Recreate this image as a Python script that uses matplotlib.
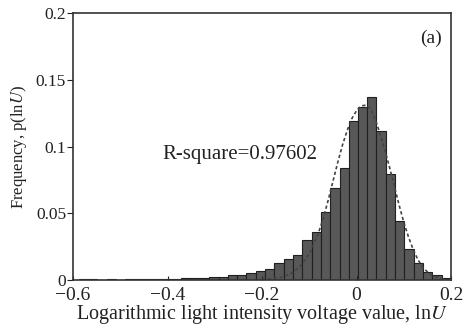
import numpy as np
import matplotlib
matplotlib.use('Agg')
import matplotlib.pyplot as plt

plt.rcParams['font.family'] = ['Liberation Serif', 'DejaVu Serif']
plt.rcParams['mathtext.fontset'] = 'stix'

# Histogram bars: centers (lnU) and frequencies
bin_width = 0.0197
bar_centers = [-0.5778, -0.5581, -0.5384, -0.5187, -0.4990, -0.4793, -0.4596,
               -0.4399, -0.4202, -0.4005, -0.3808, -0.3611, -0.3414,
               -0.3217, -0.3020, -0.2823, -0.2626, -0.2429, -0.2232, -0.2035,
               -0.1838, -0.1641, -0.1444, -0.1247, -0.1050, -0.0853, -0.0656,
               -0.0459, -0.0262, -0.0065, 0.0124, 0.0321, 0.0518, 0.0715,
               0.0912, 0.1109, 0.1306, 0.1503, 0.1700, 0.1897]
bar_freq = [0.0005, 0.0005, 0.0002, 0.0005, 0.0003, 0.0005, 0.0005,
            0.0005, 0.0005, 0.0007, 0.0010, 0.0012, 0.0015,
            0.0017, 0.0025, 0.0025, 0.0035, 0.0040, 0.0050, 0.0065,
            0.0085, 0.0125, 0.0157, 0.0187, 0.0297, 0.0362, 0.0507,
            0.0692, 0.0836, 0.1194, 0.1299, 0.1373, 0.1116, 0.0794,
            0.0442, 0.0235, 0.0125, 0.0062, 0.0037, 0.0017]

# Fitted curve (dashed)
fit_x = [-0.20, -0.18, -0.16, -0.14, -0.12, -0.10, -0.08, -0.07, -0.06, -0.05,
         -0.04, -0.03, -0.02, -0.01, 0.00, 0.01, 0.02, 0.03, 0.04, 0.05,
         0.06, 0.07, 0.08, 0.09, 0.10, 0.11, 0.12, 0.13, 0.14, 0.15,
         0.16, 0.17, 0.18, 0.19]
fit_y = [0.0005, 0.0010, 0.0020, 0.0045, 0.0100, 0.0195, 0.0360, 0.0470, 0.0600, 0.0740,
         0.0880, 0.1010, 0.1120, 0.1210, 0.1270, 0.1305, 0.1310, 0.1280, 0.1200, 0.1090,
         0.0970, 0.0840, 0.0700, 0.0560, 0.0430, 0.0320, 0.0225, 0.0150, 0.0095, 0.0060,
         0.0035, 0.0020, 0.0010, 0.0005]

r_square = 0.97602

fig = plt.figure(figsize=(4.68, 3.27), dpi=100)
ax = fig.add_axes([0.156, 0.1437, 0.808, 0.8163])

ax.bar(bar_centers, bar_freq, width=bin_width, color='#585858',
       edgecolor='#202020', linewidth=0.8)
ax.plot(fit_x, fit_y, linestyle=(0, (2.0, 1.5)), color='#444444', linewidth=1.2)

ax.set_xlim(-0.6, 0.2)
ax.set_ylim(0, 0.2)
ax.set_xticks([-0.6, -0.4, -0.2, 0, 0.2])
ax.set_xticklabels(['\u22120.6', '\u22120.4', '\u22120.2', '0', '0.2'])
ax.set_yticks([0, 0.05, 0.1, 0.15, 0.2])
ax.set_yticklabels(['0', '0.05', '0.1', '0.15', '0.2'])
ax.tick_params(axis='x', direction='in', length=3, labelsize=14, pad=5, colors='#222222')
ax.tick_params(axis='y', direction='out', length=4, labelsize=12.5, pad=1, colors='#222222')

for s in ax.spines.values():
    s.set_linewidth(1.2)
    s.set_color('#333333')

ax.set_xlabel(r'Logarithmic light intensity voltage value, ln$\mathit{U}$',
              fontsize=14.5, labelpad=-1, color='#222222')
ax.set_ylabel(r'Frequency, p(ln$\mathit{U}$)', fontsize=12, labelpad=5, color='#222222')

ax.text(-0.247, 0.094, 'R-square=%.5f' % r_square, fontsize=15,
        ha='center', va='center', color='#222222')
ax.text(0.158, 0.181, '(a)', fontsize=14, ha='center', va='center', color='#222222')

fig.savefig('out.png', dpi=100)
